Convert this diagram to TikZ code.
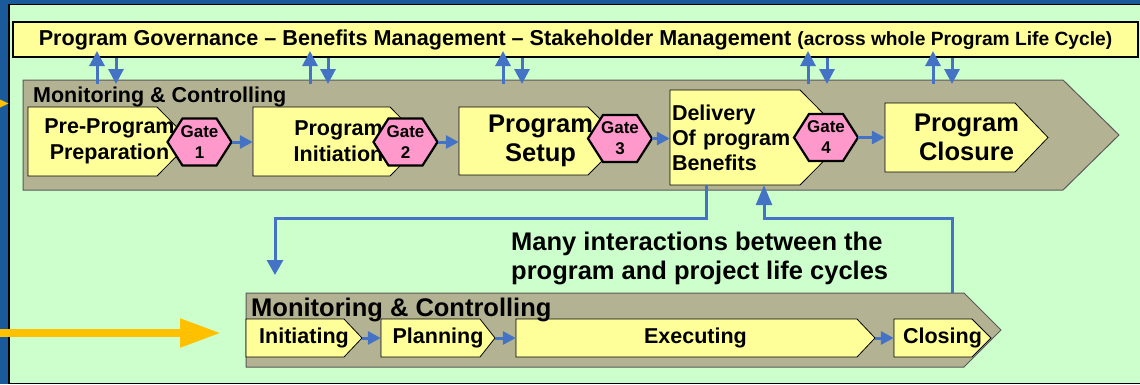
\documentclass[tikz,border=0pt]{standalone}
\usepackage{fontspec}
\setmainfont{Liberation Sans}
\usetikzlibrary{arrows.meta}

\definecolor{slideblue}{HTML}{1A5A9A}
\definecolor{panelgreen}{HTML}{CCFFCC}
\definecolor{stageyellow}{HTML}{FFFF99}
\definecolor{mcgray}{HTML}{B3B394}
\definecolor{gatepink}{HTML}{FF99CC}
\definecolor{linkblue}{HTML}{4472C4}
\definecolor{feedorange}{HTML}{FFC000}

\begin{document}
\begin{tikzpicture}[x=1pt, y=-1pt,
    mcarrow/.style={fill=mcgray, draw=black!65, line width=1pt},
    stagebox/.style={fill=stageyellow, draw=black, line width=0.8pt},
    gatebox/.style={fill=gatepink, draw=black, line width=2.2pt},
    stagetxt/.style={inner sep=0pt, align=center, font=\bfseries\fontsize{21.5}{26}\selectfont},
    bigtxt/.style={stagetxt, font=\bfseries\fontsize{25.5}{29.5}\selectfont},
    gatetxt/.style={inner sep=0pt, align=center, minimum width=64pt, minimum height=47pt,
        font=\bfseries\fontsize{17}{21}\selectfont},
    link/.style={draw=linkblue, line width=3pt, -{Triangle[length=15pt, width=15pt]}},
    steplink/.style={draw=linkblue, line width=3pt, -{Triangle[length=13pt, width=13pt]}},
    feed/.style={draw=feedorange, line width=8pt, -{Triangle[length=41pt, width=27pt]}}
]
    % slide background and panel
    \useasboundingbox (0,0) rectangle (1140,384);
    \fill[slideblue] (0,0) rectangle (1140,384);
    \draw[fill=panelgreen, line width=1.5pt] (9,4.5) rectangle (1150,383.5);
    \fill[feedorange] (0,99.5) -- (8.5,103.5) -- (0,107.5) -- cycle;

    % governance bar
    \node[draw=black, line width=2pt, fill=stageyellow, minimum width=1125pt, minimum height=35pt,
        inner sep=0pt, font=\bfseries] (gov) at (575.5,39.5)
        {{\fontsize{21.6}{26}\selectfont Program Governance – Benefits Management – Stakeholder Management }%
         {\fontsize{19.2}{22}\selectfont (across whole Program Life Cycle)}};

    % monitoring & controlling arrows
    \draw[mcarrow] (23,80) -- (1063,80) -- (1119,135) -- (1063,190) -- (23,190) -- cycle;
    \draw[mcarrow] (246,293) -- (964,293) -- (1001,330) -- (964,367) -- (246,367) -- cycle;
    \coordinate (pgtop) at (23,80);
    \coordinate (pjtop) at (246,293);
    \coordinate (feedin) at (0,333);

    % stages
    \foreach \xl/\yt/\xc/\xt/\yb in {28/107/157/191/176, 253/107/390/424/176, 459/107/588/622/175,
        670/90/800/847/185, 885/103/1015/1048/172, 246/319/344/362/357, 381/319/480/495/357,
        516/319/857/875/357, 894/319/972/991/357}
        \draw[stagebox] (\xl,\yt) -- (\xc,\yt) -- (\xt,{(\yt+\yb)/2}) -- (\xc,\yb) -- (\xl,\yb) -- cycle;

    \node[anchor=base west, inner sep=0pt, font=\bfseries\fontsize{21.5}{26}\selectfont] (pgmc) at (33,102.5) {Monitoring \& Controlling};
    \node[anchor=base west, inner sep=0pt, font=\bfseries\fontsize{25.5}{30}\selectfont] (pjmc) at (251,316) {Monitoring \& Controlling};

    \node[stagetxt, text width=163pt] (pre) at (109.5,141.5) {Pre-Program\\Preparation};
    \node[stagetxt, text width=171pt] (init) at (338.5,141.5) {Program\\Initiation};
    \node[bigtxt, text width=163pt] (setup) at (540.5,141) {Program\\Setup};
    \node[stagetxt, text width=173pt, inner xsep=2pt, minimum height=95pt, align=left,
        font=\bfseries\fontsize{21.5}{25}\selectfont] (deliv) at (758.5,137.5) {Delivery\\Of program\\Benefits};
    \node[bigtxt, text width=163pt] (close) at (966.5,137.5) {Program\\Closure};

    \node[stagetxt, text width=116pt] (ini) at (304,338) {Initiating};
    \node[stagetxt, text width=114pt] (pln) at (438,338) {Planning};
    \node[stagetxt, text width=359pt] (exe) at (695.5,338) {Executing};
    \node[stagetxt, text width=97pt] (clo) at (942.5,338) {Closing};

    % gates
    \foreach \k/\x/\y in {1/199.5/142, 2/405.5/142, 3/620/138.5, 4/826/137.5} {
        \draw[gatebox] ({\x-32},\y) -- ({\x-17},{\y-23.5}) -- ({\x+17},{\y-23.5}) -- ({\x+32},\y)
            -- ({\x+17},{\y+23.5}) -- ({\x-17},{\y+23.5}) -- cycle;
        \node[gatetxt] (g\k) at (\x,\y) {Gate\\\k};
    }

    % flow between stages
    \draw[steplink] (g1.east) -- (g1.east -| init.west);
    \draw[steplink] (g2.east) -- (g2.east -| setup.west);
    \draw[steplink] (g3.east) -- (g3.east -| deliv.west);
    \draw[steplink] (g4.east) -- (g4.east -| close.west);
    \draw[steplink] (ini.east) -- (pln.west);
    \draw[steplink] (pln.east) -- (exe.west);
    \draw[steplink] (exe.east) -- (clo.west);

    % governance links
    \foreach \u/\d in {97/116, 310/328, 503/522, 808/827, 933/952} {
        \draw[link, shorten <=-4pt, shorten >=-7pt] (pgtop -| \u,0) -- (gov.south -| \u,0);
        \draw[link, shorten >=-4pt] (gov.south -| \d,0) -- (pgtop -| \d,0);
    }

    % program <-> project interactions
    \draw[link, -{Triangle[length=15pt, width=16pt]}, shorten >=18pt]
        (deliv.south -| 706,0) -- ++(0,33) -| (pjtop -| 275,0);
    \draw[link, -{Triangle[length=20pt, width=16pt]}]
        (pjtop -| 952,0) -- ++(0,-75) -| (deliv.south -| 764,0);
    \node[anchor=north west, align=left, inner sep=0pt, font=\bfseries\fontsize{25.5}{29}\selectfont] (note)
        at (511,231.5) {Many interactions between the\\program and project life cycles};

    \draw[feed, shorten >=25pt] (feedin) -- (feedin -| pjtop);
\end{tikzpicture}
\end{document}
